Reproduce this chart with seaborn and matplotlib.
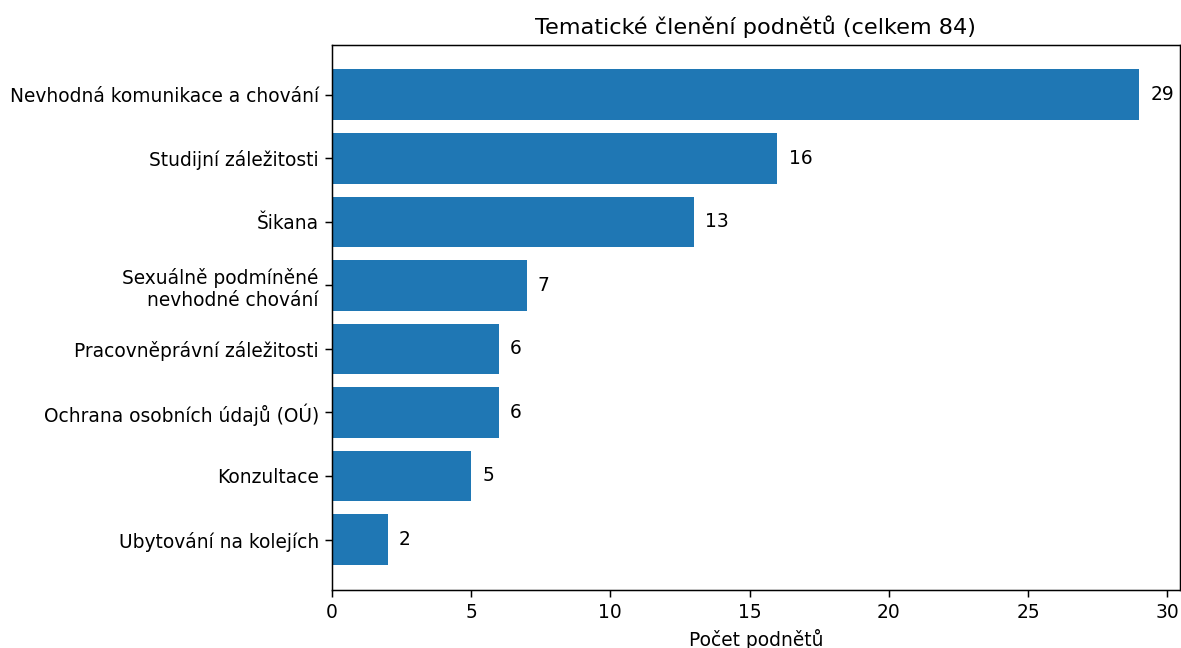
import matplotlib
matplotlib.use("Agg")
import matplotlib.pyplot as plt
import seaborn as sns
import pandas as pd

categories = [
    "Nevhodná komunikace a chování",
    "Studijní záležitosti",
    "Šikana",
    "Sexuálně podmíněné\nnevhodné chování",
    "Pracovněprávní záležitosti",
    "Ochrana osobních údajů (OÚ)",
    "Konzultace",
    "Ubytování na kolejích",
]
counts = [29, 16, 13, 7, 6, 6, 5, 2]
title = "Tematické členění podnětů (celkem 84)"
xlabel = "Počet podnětů"

df = pd.DataFrame({"cat": categories, "n": counts})

sns.set_style("ticks")
plt.rcParams["font.family"] = ["DejaVu Sans"]
plt.rcParams["text.color"] = "black"
plt.rcParams["axes.labelcolor"] = "black"
plt.rcParams["xtick.color"] = "black"
plt.rcParams["ytick.color"] = "black"
plt.rcParams["axes.edgecolor"] = "black"

S = 1.34
fig = plt.figure(figsize=(11.81, 6.48), dpi=100)
ax = fig.add_axes([0.281, 0.09, 0.718, 0.841])
sns.barplot(data=df, x="n", y="cat", orient="h", color="#1f77b4",
            saturation=1, width=0.8, linewidth=0, ax=ax)
for c in ax.containers:
    ax.bar_label(c, padding=8, fontsize=10 * S, color="black")
n = len(categories)
ax.set_ylim(n - 1 + 0.4 + 0.39, -0.4 - 0.39)
ax.set_xlim(0, max(counts) * 1.05)
ax.set_xticks([0, 5, 10, 15, 20, 25, 30])
ax.tick_params(labelsize=10 * S, colors="black", length=3.5 * S,
               width=0.8 * S, pad=3.5 * S)
ax.set_ylabel("")
ax.set_xlabel(xlabel, fontsize=10 * S, labelpad=4 * S)
ax.set_title(title, fontsize=12 * S, pad=6 * S)
for s in ax.spines.values():
    s.set_visible(True)
    s.set_color("black")
    s.set_linewidth(0.8 * S)
fig.savefig("out.png", dpi=100)
